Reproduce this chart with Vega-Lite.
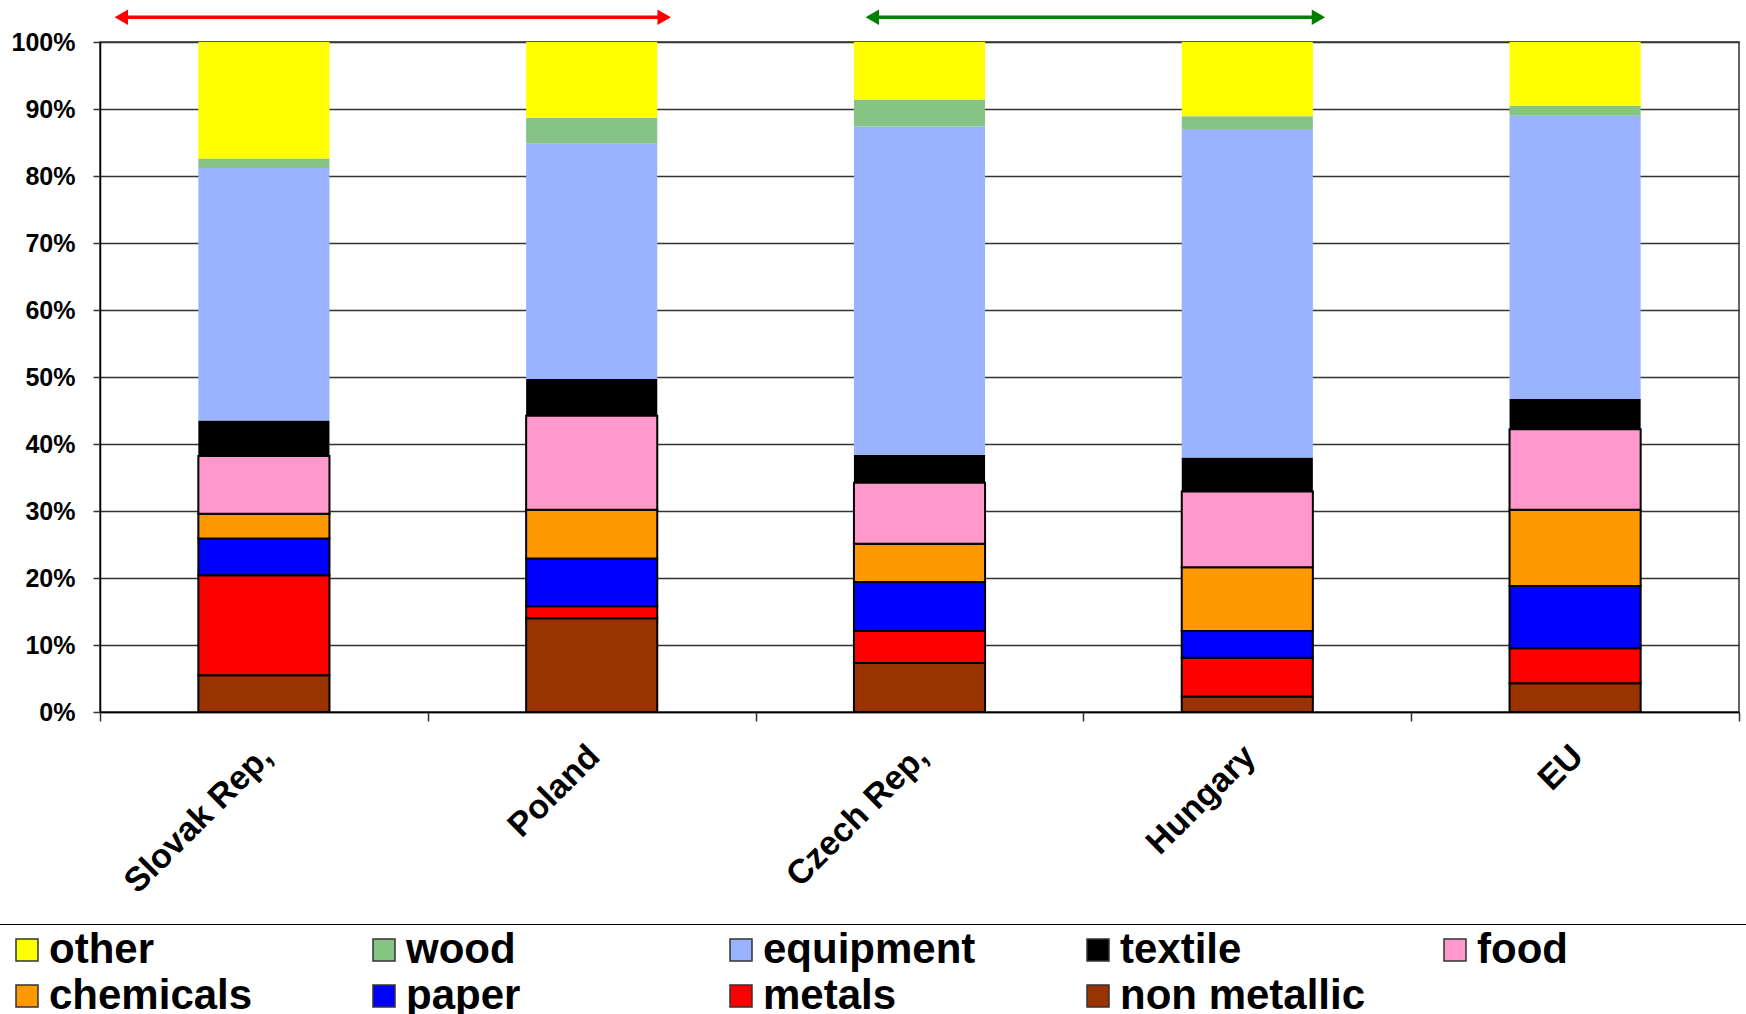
{
  "$schema": "https://vega.github.io/schema/vega-lite/v6.json",
  "width": 1639,
  "height": 670,
  "autosize": "none",
  "padding": {"left": 100, "top": 42, "right": 7, "bottom": 302},
  "background": "white",
  "config": {"view": {"stroke": "#333", "strokeWidth": 1.5}, "font": "Liberation Sans"},
  "layer": [
    {
      "data": {"values": [
        {"country": "Slovak Rep,", "industry": "non metallic", "share": 5.5},
        {"country": "Slovak Rep,", "industry": "metals", "share": 14.9},
        {"country": "Slovak Rep,", "industry": "paper", "share": 5.5},
        {"country": "Slovak Rep,", "industry": "chemicals", "share": 3.7},
        {"country": "Slovak Rep,", "industry": "food", "share": 8.6},
        {"country": "Slovak Rep,", "industry": "textile", "share": 5.3},
        {"country": "Slovak Rep,", "industry": "equipment", "share": 37.7},
        {"country": "Slovak Rep,", "industry": "wood", "share": 1.4},
        {"country": "Slovak Rep,", "industry": "other", "share": 17.4},
        {"country": "Poland", "industry": "non metallic", "share": 14.0},
        {"country": "Poland", "industry": "metals", "share": 1.8},
        {"country": "Poland", "industry": "paper", "share": 7.1},
        {"country": "Poland", "industry": "chemicals", "share": 7.3},
        {"country": "Poland", "industry": "food", "share": 14.0},
        {"country": "Poland", "industry": "textile", "share": 5.5},
        {"country": "Poland", "industry": "equipment", "share": 35.2},
        {"country": "Poland", "industry": "wood", "share": 3.8},
        {"country": "Poland", "industry": "other", "share": 11.3},
        {"country": "Czech Rep,", "industry": "non metallic", "share": 7.3},
        {"country": "Czech Rep,", "industry": "metals", "share": 4.8},
        {"country": "Czech Rep,", "industry": "paper", "share": 7.3},
        {"country": "Czech Rep,", "industry": "chemicals", "share": 5.7},
        {"country": "Czech Rep,", "industry": "food", "share": 9.1},
        {"country": "Czech Rep,", "industry": "textile", "share": 4.2},
        {"country": "Czech Rep,", "industry": "equipment", "share": 49.0},
        {"country": "Czech Rep,", "industry": "wood", "share": 4.0},
        {"country": "Czech Rep,", "industry": "other", "share": 8.6},
        {"country": "Hungary", "industry": "non metallic", "share": 2.3},
        {"country": "Hungary", "industry": "metals", "share": 5.8},
        {"country": "Hungary", "industry": "paper", "share": 4.0},
        {"country": "Hungary", "industry": "chemicals", "share": 9.5},
        {"country": "Hungary", "industry": "food", "share": 11.3},
        {"country": "Hungary", "industry": "textile", "share": 5.1},
        {"country": "Hungary", "industry": "equipment", "share": 49.0},
        {"country": "Hungary", "industry": "wood", "share": 1.9},
        {"country": "Hungary", "industry": "other", "share": 11.1},
        {"country": "EU", "industry": "non metallic", "share": 4.3},
        {"country": "EU", "industry": "metals", "share": 5.2},
        {"country": "EU", "industry": "paper", "share": 9.3},
        {"country": "EU", "industry": "chemicals", "share": 11.4},
        {"country": "EU", "industry": "food", "share": 12.0},
        {"country": "EU", "industry": "textile", "share": 4.5},
        {"country": "EU", "industry": "equipment", "share": 42.3},
        {"country": "EU", "industry": "wood", "share": 1.5},
        {"country": "EU", "industry": "other", "share": 9.5}
      ]},
      "transform": [
        {"calculate": "indexof(['non metallic','metals','paper','chemicals','food','textile','equipment','wood','other'], datum.industry)", "as": "rank"}
      ],
      "mark": {"type": "bar", "stroke": "#000"},
      "encoding": {
        "x": {
          "field": "country", "type": "nominal", "sort": null,
          "scale": {"paddingInner": 0.6, "paddingOuter": 0.3},
          "axis": {
            "title": null, "labelAngle": -45, "labelAlign": "right", "labelBaseline": "middle",
            "labelFontSize": 34, "labelFontWeight": "bold", "labelFont": "Liberation Sans", "labelColor": "#000",
            "labelPadding": 39, "labelOffset": 3, "ticks": false, "tickSize": 0,
            "domainColor": "#000", "domainWidth": 1.5, "labelLimit": 400
          }
        },
        "y": {
          "field": "share", "type": "quantitative", "stack": "normalize",
          "scale": {"domain": [0, 1], "nice": false},
          "axis": {
            "title": null, "format": ".0%", "values": [0, 0.1, 0.2, 0.3, 0.4, 0.5, 0.6, 0.7, 0.8, 0.9, 1],
            "labelFontSize": 25, "labelFontWeight": "bold", "labelFont": "Liberation Sans", "labelColor": "#000",
            "labelPadding": 18, "tickSize": 7, "tickColor": "#333", "tickWidth": 1.5,
            "domainColor": "#000", "domainWidth": 1.5,
            "grid": true, "gridColor": "#333", "gridWidth": 1.3
          }
        },
        "color": {
          "field": "industry", "type": "nominal",
          "scale": {
            "domain": ["other", "wood", "equipment", "textile", "food", "chemicals", "paper", "metals", "non metallic"],
            "range": ["#FFFF00", "#86C486", "#99B3FF", "#000000", "#FF99CC", "#FF9900", "#0000FF", "#FF0000", "#993300"]
          },
          "legend": {
            "orient": "none", "legendX": -103, "legendY": 882,
            "columns": 5, "gridAlign": "all", "direction": "horizontal",
            "symbolType": "square", "symbolSize": 484, "symbolOffset": 4,
            "symbolStrokeColor": "#333", "symbolStrokeWidth": 1.5,
            "labelFontSize": 42, "labelFont": "Liberation Sans", "labelFontWeight": "bold", "labelColor": "#000",
            "labelOffset": 1, "labelLimit": 400,
            "columnPadding": 64, "rowPadding": 4,
            "strokeColor": "#000", "padding": 5,
            "title": "\u00a0", "titleOrient": "right", "titlePadding": 250, "titleFontSize": 40
          }
        },
        "order": {"field": "rank", "type": "quantitative"},
        "strokeWidth": {"condition": {"test": "datum.rank < 5", "value": 2}, "value": 0}
      }
    },
    {
      "data": {"values": [
        {"arrow": "red", "start": 0.065, "end": 1.721},
        {"arrow": "green", "start": 2.356, "end": 3.717}
      ]},
      "mark": {"type": "rule", "strokeWidth": 3.5},
      "encoding": {
        "x": {
          "field": "start", "type": "quantitative",
          "scale": {"domain": [0, 5], "nice": false, "zero": false},
          "axis": {"orient": "bottom", "values": [0, 1, 2, 3, 4, 5], "labels": false, "domain": false, "grid": false,
                   "ticks": true, "tickSize": 9, "tickColor": "#333", "tickWidth": 1.5, "title": null}
        },
        "x2": {"field": "end"},
        "y": {"datum": 1.037, "type": "quantitative"},
        "color": {"field": "arrow", "type": "nominal", "scale": {"domain": ["red", "green"], "range": ["#FF0000", "#008000"]}, "legend": null}
      }
    },
    {
      "data": {"values": [
        {"arrow": "red", "start": 0.065, "end": 1.721},
        {"arrow": "green", "start": 2.356, "end": 3.717}
      ]},
      "transform": [{"fold": ["start", "end"], "as": ["tip", "pos"]}],
      "mark": {"type": "point", "filled": true, "opacity": 1, "size": 240},
      "encoding": {
        "x": {"field": "pos", "type": "quantitative", "scale": {"domain": [0, 5], "nice": false, "zero": false}, "axis": null},
        "y": {"datum": 1.037, "type": "quantitative"},
        "shape": {"field": "tip", "type": "nominal", "scale": {"domain": ["start", "end"], "range": ["triangle-left", "triangle-right"]}, "legend": null},
        "color": {"field": "arrow", "type": "nominal", "scale": {"domain": ["red", "green"], "range": ["#FF0000", "#008000"]}, "legend": null}
      }
    }
  ],
  "resolve": {"scale": {"x": "independent", "color": "independent"}, "axis": {"x": "independent"}}
}
